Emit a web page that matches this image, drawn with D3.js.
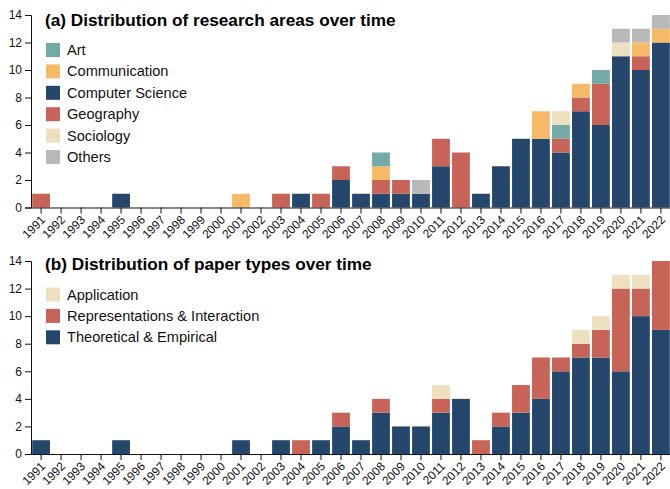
<!DOCTYPE html>
<html>
<head>
<meta charset="utf-8">
<style>
 body{ margin:0; background:#fff; }
 svg{ font-family: "Liberation Sans", Arial, Helvetica, sans-serif; }
 .axis text{ font-size:12px; fill:#111; }
 .axis path, .axis line{ stroke:#111; }
 .xaxis text{ font-size:12px; }
 .title{ font-size:17.2px; font-weight:bold; }
 .legend text{ font-size:14.6px; fill:#111; }
</style>
</head>
<body>
<svg width="670" height="489"></svg>
<script src="https://d3js.org/d3.v7.min.js"></script>
<script>
var years = d3.range(1991, 2023).map(String);
var yTicks = [0, 2, 4, 6, 8, 10, 12, 14];

// (a) research areas, one value per year 1991..2022
var areaKeys = ["Computer Science", "Geography", "Communication", "Art", "Sociology", "Others"];
var legendA = ["Art", "Communication", "Computer Science", "Geography", "Sociology", "Others"];
var csVals    = [0,0,0,0,1,0,0,0,0,0,0,0,0,1,0,2,1,1,1,1,3,0,1,3,5,5,4,7,6,11,10,12];
var geoVals   = [1,0,0,0,0,0,0,0,0,0,0,0,1,0,1,1,0,1,1,0,2,4,0,0,0,0,1,1,3,0,1,0];
var commVals  = [0,0,0,0,0,0,0,0,0,0,1,0,0,0,0,0,0,1,0,0,0,0,0,0,0,2,0,1,0,0,1,1];
var artVals   = [0,0,0,0,0,0,0,0,0,0,0,0,0,0,0,0,0,1,0,0,0,0,0,0,0,0,1,0,1,0,0,0];
var socVals   = [0,0,0,0,0,0,0,0,0,0,0,0,0,0,0,0,0,0,0,0,0,0,0,0,0,0,1,0,0,1,0,0];
var otherVals = [0,0,0,0,0,0,0,0,0,0,0,0,0,0,0,0,0,0,0,1,0,0,0,0,0,0,0,0,0,1,1,1];

// (b) paper types
var typeKeys = ["Theoretical & Empirical", "Representations & Interaction", "Application"];
var legendB = ["Application", "Representations & Interaction", "Theoretical & Empirical"];
var theoVals = [1,0,0,0,1,0,0,0,0,0,1,0,1,0,1,2,1,3,2,2,3,4,0,2,3,4,6,7,7,6,10,9];
var repVals  = [0,0,0,0,0,0,0,0,0,0,0,0,0,1,0,1,0,1,0,0,1,0,1,1,2,3,1,1,2,6,2,5];
var appVals  = [0,0,0,0,0,0,0,0,0,0,0,0,0,0,0,0,0,0,0,0,1,0,0,0,0,0,0,1,1,1,1,0];

var colors = {
  "Art": "#72aaa6",
  "Communication": "#f5b967",
  "Computer Science": "#24476b",
  "Geography": "#c86358",
  "Sociology": "#eedfbe",
  "Others": "#b8b8b8",
  "Application": "#eedfbe",
  "Representations & Interaction": "#c86358",
  "Theoretical & Empirical": "#24476b"
};

var dataA = years.map(function(y, i){
  return {year:y, "Computer Science":csVals[i], "Geography":geoVals[i], "Communication":commVals[i],
          "Art":artVals[i], "Sociology":socVals[i], "Others":otherVals[i]};
});
var dataB = years.map(function(y, i){
  return {year:y, "Theoretical & Empirical":theoVals[i], "Representations & Interaction":repVals[i],
          "Application":appVals[i]};
});

var svg = d3.select("svg");

var x = d3.scaleBand()
  .domain(years)
  .range([31, 671])
  .paddingInner(0.11)
  .paddingOuter(0.06);

function drawPanel(data, keys, legendKeys, title, top, bottom, titleY) {
  var y = d3.scaleLinear().domain([0, 14]).range([bottom, top]);
  var g = svg.append("g");

  var series = d3.stack().keys(keys)(data);
  g.selectAll("g.layer")
    .data(series)
    .enter().append("g")
    .attr("class", "layer")
    .attr("fill", function(d){ return colors[d.key]; })
    .selectAll("rect")
    .data(function(d){ return d; })
    .enter().append("rect")
    .attr("x", function(d){ return x(d.data.year); })
    .attr("width", x.bandwidth())
    .attr("y", function(d){ return y(d[1]); })
    .attr("height", function(d){ return y(d[0]) - y(d[1]); });

  g.append("g")
    .attr("class", "axis")
    .attr("transform", "translate(31,0)")
    .call(d3.axisLeft(y).tickValues(yTicks).tickSizeOuter(6));

  var xa = g.append("g")
    .attr("class", "axis xaxis")
    .attr("transform", "translate(0," + bottom + ")")
    .call(d3.axisBottom(x).tickSizeOuter(0));
  xa.select(".domain").attr("d", "M31,0.5H670");
  // rotated year labels, ending just right of the tick
  xa.selectAll(".tick text")
    .attr("x", 0)
    .attr("y", 0)
    .attr("dy", "0.35em")
    .attr("text-anchor", "end")
    .attr("transform", "translate(2,10) rotate(-45)");

  g.append("text")
    .attr("class", "title")
    .attr("x", 45)
    .attr("y", titleY)
    .text(title);

  var leg = g.append("g").attr("class", "legend");
  var items = leg.selectAll("g")
    .data(legendKeys)
    .enter().append("g")
    .attr("transform", function(d, i){ return "translate(46," + (titleY + 17.5 + i * 21.4) + ")"; });
  items.append("rect").attr("width", 14).attr("height", 14)
    .attr("fill", function(d){ return colors[d]; });
  items.append("text").attr("x", 21).attr("y", 12).text(function(d){ return d; });
}

drawPanel(dataA, areaKeys, legendA, "(a) Distribution of research areas over time", 15, 207.5, 25.5);
drawPanel(dataB, typeKeys, legendB, "(b) Distribution of paper types over time", 261, 454, 270);
</script>
</body>
</html>
